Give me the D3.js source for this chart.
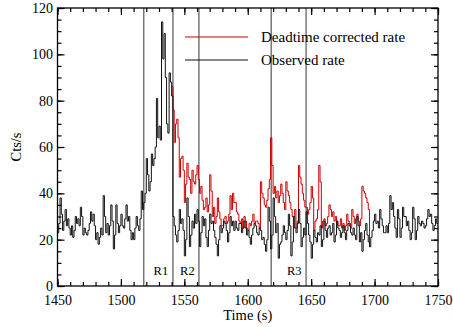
<!DOCTYPE html>
<html>
<head>
<meta charset="utf-8">
<script src="https://cdn.jsdelivr.net/npm/d3@7"></script>
<style>
  body { margin: 0; background: #fff; }
  text { font-family: "Liberation Serif", "Times New Roman", serif; fill: #000; }
</style>
</head>
<body>
<svg id="chart" width="453" height="327"></svg>
<script>
// light curve, 1 s bins starting at 1450 s
var binStart = 1450;
var binWidth = 1;
var observed = [
  23, 27, 38, 31, 24, 28, 33, 26, 29, 25,
  22, 26, 21, 24, 30, 27, 29, 26, 34, 30,
  22, 25, 23, 22, 24, 27, 32, 28, 31, 26,
  20, 23, 18, 21, 25, 22, 39, 30, 23, 27,
  22, 26, 35, 28, 16, 22, 35, 27, 23, 26,
  31, 26, 25, 29, 35, 28, 30, 24, 20, 23,
  20, 25, 30, 26, 24, 29, 41, 33, 36, 40,
  55, 48, 41, 45, 57, 52, 55, 60, 81, 64,
  69, 63, 114, 98, 109, 90, 70, 66, 92, 88,
  82, 30, 26, 22, 19, 24, 33, 27, 29, 24,
  13, 20, 38, 30, 17, 22, 28, 25, 31, 27,
  33, 28, 17, 23, 30, 26, 29, 21, 17, 24,
  31, 27, 28, 24, 21, 18, 13, 20, 26, 23,
  25, 28, 27, 24, 19, 23, 30, 26, 28, 24,
  28, 25, 24, 27, 27, 23, 25, 28, 25, 22,
  24, 21, 18, 22, 25, 27, 26, 23, 22, 25,
  24, 20, 21, 18, 15, 20, 34, 28, 16, 22,
  38, 30, 23, 27, 12, 18, 19, 22, 26, 23,
  20, 24, 31, 26, 13, 19, 30, 25, 23, 27,
  33, 27, 17, 21, 25, 22, 32, 27, 22, 19,
  12, 18, 24, 21, 19, 23, 22, 26, 17, 20,
  28, 24, 21, 25, 26, 22, 23, 27, 19, 22,
  28, 25, 24, 21, 23, 26, 23, 20, 24, 27,
  26, 23, 22, 25, 22, 20, 30, 26, 19, 23,
  15, 20, 24, 27, 22, 19, 17, 21, 24, 28,
  31, 27, 28, 25, 33, 29, 26, 23, 23, 26,
  23, 27, 39, 33, 36, 30, 25, 21, 33, 29,
  21, 25, 34, 30, 30, 26, 28, 24, 20, 23,
  34, 29, 20, 24, 30, 27, 26, 28, 27, 25,
  26, 29, 33, 30, 31, 27, 24, 26, 29, 27
];
// deadtime corrected rate, only where it differs from the observed one
var corrStart = 1540;
var corrected = [
  86, 76, 62, 70, 72, 64, 47, 55, 56, 50,
  36, 44, 53, 47, 46, 40, 50, 45, 44, 48,
  52, 46, 40, 43, 37, 33, 34, 38, 32, 35,
  48, 41, 30, 34, 27, 30, 38, 32, 29, 26,
  26, 29, 30, 27, 28, 31, 39, 33, 40, 36,
  36, 32, 31, 28, 27, 29, 25, 30, 28, 25,
  24, 27, 26, 28, 31, 27, 28, 28, 27, 25,
  45, 40, 38, 35, 34, 37, 42, 46, 64, 52,
  40, 43, 38, 41, 36, 39, 44, 40, 36, 33,
  45, 41, 39, 36, 33, 30, 30, 33, 25, 28,
  52, 47, 44, 40, 37, 34, 34, 31, 33, 36,
  43, 38, 24, 28, 29, 33, 52, 45, 25, 28,
  29, 26, 27, 30, 35, 33, 30, 32, 28, 30,
  28, 26, 26, 29, 25, 27, 24, 26, 31, 28,
  27, 25, 33, 30, 27, 29, 31, 28, 26, 29,
  43, 41, 40, 38, 36, 33, 17
];
var regionEdges = [1518, 1541, 1561.5, 1618.5, 1646];
var regionNames = ["R1", "R2", "R3"];
var regionLabelTimes = [1531.5, 1552.4, 1636.7];
var xTicks = [1450, 1500, 1550, 1600, 1650, 1700, 1750];
var yTicks = [0, 20, 40, 60, 80, 100, 120];

var svg = d3.select("#chart");
var x = d3.scaleLinear().domain([1450, 1750]).range([57.5, 438]);
var y = d3.scaleLinear().domain([0, 120]).range([286, 8]);

function steps(start, vals) {
  var pts = vals.map(function (v, i) { return [start + i * binWidth, v]; });
  pts.push([start + vals.length * binWidth, vals[vals.length - 1]]);
  return pts;
}
var line = d3.line()
  .x(function (d) { return x(d[0]); })
  .y(function (d) { return y(d[1]); })
  .curve(d3.curveStepAfter);

// region markers
svg.append("g").selectAll("line")
  .data(regionEdges)
  .enter().append("line")
  .attr("x1", function (d) { return x(d); })
  .attr("x2", function (d) { return x(d); })
  .attr("y1", y(0)).attr("y2", y(120))
  .attr("stroke", "#6e6e6e").attr("stroke-width", 1.4);

svg.append("g").selectAll("text")
  .data(regionNames)
  .enter().append("text")
  .attr("x", function (d, i) { return x(regionLabelTimes[i]); })
  .attr("y", y(4.8))
  .attr("text-anchor", "middle")
  .style("font-size", "12.5px")
  .text(function (d) { return d; });

// curves
svg.append("path")
  .attr("d", line(steps(corrStart, corrected)))
  .attr("fill", "none").attr("stroke", "#cc0000").attr("stroke-width", 1);
svg.append("path")
  .attr("d", line(steps(binStart, observed)))
  .attr("fill", "none").attr("stroke", "#111").attr("stroke-width", 1);

// axes, ticks pointing inward on all four sides
function styleAxis(g) {
  g.select(".domain").remove();
  g.selectAll("line").attr("stroke", "#000").attr("stroke-width", 1.2);
  g.selectAll("text").style("font-size", "14px").attr("fill", "#000")
    .style("font-family", '"Liberation Serif", "Times New Roman", serif');
}
var xMinor = d3.range(1450, 1751, 10);
var yMinor = d3.range(0, 121, 5);

svg.append("g").attr("transform", "translate(0," + y(0) + ")")
  .call(d3.axisBottom(x).tickValues(xMinor).tickSize(-4).tickFormat("")).call(styleAxis);
svg.append("g").attr("transform", "translate(0," + y(0) + ")")
  .call(d3.axisBottom(x).tickValues(xTicks).tickSize(-7).tickPadding(9).tickFormat(d3.format("d"))).call(styleAxis);
svg.append("g").attr("transform", "translate(0," + y(120) + ")")
  .call(d3.axisTop(x).tickValues(xMinor).tickSize(-4).tickFormat("")).call(styleAxis);
svg.append("g").attr("transform", "translate(0," + y(120) + ")")
  .call(d3.axisTop(x).tickValues(xTicks).tickSize(-7).tickFormat("")).call(styleAxis);

svg.append("g").attr("transform", "translate(" + x(1450) + ",0)")
  .call(d3.axisLeft(y).tickValues(yMinor).tickSize(-4).tickFormat("")).call(styleAxis);
svg.append("g").attr("transform", "translate(" + x(1450) + ",0)")
  .call(d3.axisLeft(y).tickValues(yTicks).tickSize(-7).tickPadding(4.5)).call(styleAxis);
svg.append("g").attr("transform", "translate(" + x(1750) + ",0)")
  .call(d3.axisRight(y).tickValues(yMinor).tickSize(-4).tickFormat("")).call(styleAxis);
svg.append("g").attr("transform", "translate(" + x(1750) + ",0)")
  .call(d3.axisRight(y).tickValues(yTicks).tickSize(-7).tickFormat("")).call(styleAxis);

svg.append("rect")
  .attr("x", x(1450)).attr("y", y(120))
  .attr("width", x(1750) - x(1450)).attr("height", y(0) - y(120))
  .attr("fill", "none").attr("stroke", "#000").attr("stroke-width", 1.3);

// axis titles
svg.append("text")
  .attr("x", (x(1450) + x(1750)) / 2).attr("y", 320)
  .attr("text-anchor", "middle").style("font-size", "14.5px")
  .text("Time (s)");
svg.append("text")
  .attr("transform", "translate(21," + (y(0) + y(120)) / 2 + ") rotate(-90)")
  .attr("text-anchor", "middle").style("font-size", "14.5px")
  .text("Cts/s");

// legend
var legendItems = ["Deadtime corrected rate", "Observed rate"];
var legendColors = ["#cc0000", "#111"];
var legend = svg.append("g");
legendItems.forEach(function (name, i) {
  var ly = 37 + i * 23;
  legend.append("line")
    .attr("x1", 185).attr("x2", 248).attr("y1", ly).attr("y2", ly)
    .attr("stroke", legendColors[i]).attr("stroke-width", 1);
  legend.append("text")
    .attr("x", 261).attr("y", ly + 5)
    .style("font-size", "15px")
    .text(name);
});
</script>
</body>
</html>
